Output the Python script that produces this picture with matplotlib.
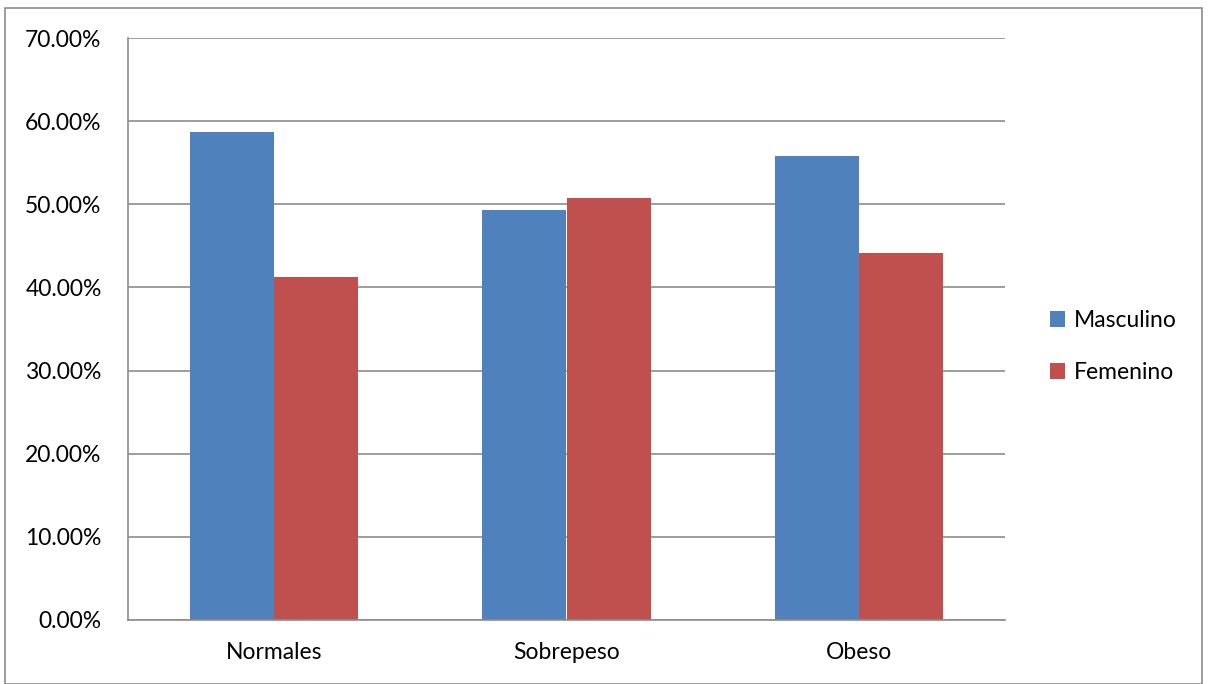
import numpy as np
import matplotlib.pyplot as plt
from matplotlib.patches import Rectangle
from matplotlib.ticker import FuncFormatter

categorias = ['Normales', 'Sobrepeso', 'Obeso']
masculino = [58.7, 49.3, 55.8]
femenino = [41.3, 50.7, 44.2]
series = ['Masculino', 'Femenino']

plt.rcParams['font.family'] = ['Lato', 'DejaVu Sans']

fig = plt.figure(figsize=(12.08, 6.84), dpi=100)
ax = fig.add_axes([128/1208, 64/684, 877/1208, 582/684])

# marco exterior del grafico
fig.patches.append(Rectangle((5/1208, 0), 1197/1208, 676/684, transform=fig.transFigure,
                             fill=False, edgecolor='#8c8c8c', linewidth=1.2))

x = np.arange(len(categorias))
w = 0.2875
ax.bar(x - w/2, masculino, w, color='#4f81bd', label=series[0], zorder=3)
ax.bar(x + w/2, femenino, w, color='#c0504d', label=series[1], zorder=3)

ax.set_xlim(-0.5, 2.5)
ax.set_ylim(0, 70)
ax.set_yticks(np.arange(0, 71, 10))
ax.yaxis.set_major_formatter(FuncFormatter(lambda v, p: '%.2f%%' % v))
ax.set_xticks(x)
ax.set_xticklabels(categorias)
ax.tick_params(axis='both', length=0, labelsize=16.5, colors='black')
ax.tick_params(axis='y', pad=19)
ax.tick_params(axis='x', pad=16)

ax.grid(axis='y', color='#8c8c8c', linewidth=1.2, zorder=0)
for s in ['top', 'right']:
    ax.spines[s].set_visible(False)
for s in ['left', 'bottom']:
    ax.spines[s].set_color('#8c8c8c')
    ax.spines[s].set_linewidth(1.2)
    ax.spines[s].set_zorder(4)

ax.legend(loc='center left', bbox_to_anchor=(1.028, 0.47), frameon=False, fontsize=16.5,
          handlelength=0.65, handleheight=0.65, handletextpad=0.4, labelspacing=1.35)

fig.savefig('out.png', dpi=100)
